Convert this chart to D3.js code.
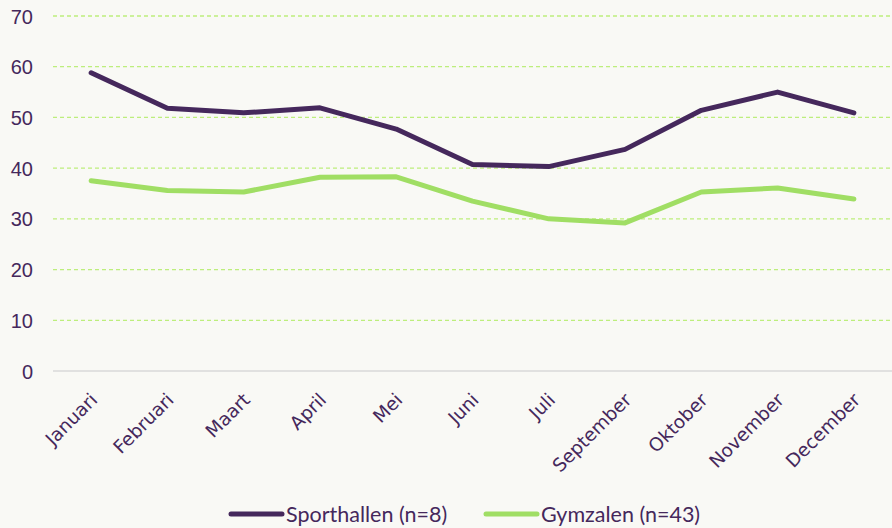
<!DOCTYPE html>
<meta charset="utf-8">
<style>
body { margin: 0; background: #f9f9f5; }
svg { display: block; font-family: Lato, sans-serif; }
.tick text { fill: #45285c; }
</style>
<body>
<svg id="chart" width="892" height="528"></svg>
<script src="https://d3js.org/d3.v7.min.js"></script>
<script>
var months = ["Januari", "Februari", "Maart", "April", "Mei", "Juni", "Juli", "September", "Oktober", "November", "December"]
var sporthallen = [58.8, 51.8, 50.9, 51.9, 47.7, 40.7, 40.3, 43.7, 51.4, 55.0, 50.9]
var gymzalen = [37.5, 35.6, 35.3, 38.2, 38.3, 33.5, 30.0, 29.2, 35.3, 36.1, 33.9]
var seriesNames = ["Sporthallen (n=8)", "Gymzalen (n=43)"]
var yTicks = [0, 10, 20, 30, 40, 50, 60, 70]

var purple = "#45285c", green = "#a0de64"
var margin = {top: 16, right: 0, bottom: 157, left: 53}
var width = 892 - margin.left - margin.right
var height = 528 - margin.top - margin.bottom

var svg = d3.select("#chart")
var g = svg.append("g").attr("transform", "translate(" + margin.left + "," + margin.top + ")")

var x = d3.scalePoint().domain(months).range([0, width]).padding(0.5)
var y = d3.scaleLinear().domain([0, 70]).range([height, 0])

// grid
g.selectAll(".grid").data(yTicks.filter(d => d > 0)).enter().append("line")
  .attr("x1", 0).attr("x2", width)
  .attr("y1", d => y(d)).attr("y2", d => y(d))
  .attr("stroke", "#bdee7c").attr("stroke-width", 1.3)
  .attr("stroke-dasharray", "4,3")
g.append("line").attr("x1", 0).attr("x2", width)
  .attr("y1", y(0)).attr("y2", y(0))
  .attr("stroke", "#d9d9d9").attr("stroke-width", 1.5)

var yAxis = g.append("g").call(d3.axisLeft(y).tickValues(yTicks).tickSize(0).tickPadding(20))
yAxis.select(".domain").remove()
yAxis.selectAll("text").style("font-size", "20px").attr("dy", "0.35em")

var xAxis = g.append("g").attr("transform", "translate(0," + height + ")")
  .call(d3.axisBottom(x).tickSize(0))
xAxis.select(".domain").remove()
xAxis.selectAll("text")
  .style("font-size", "18.5px")
  .style("font-family", "'DejaVu Sans', sans-serif")
  .style("text-anchor", "end")
  .attr("dy", null).attr("y", 0)
  .attr("transform", "translate(7,30) rotate(-45)")

var line = d3.line().x((d, i) => x(months[i])).y(d => y(d))
var series = [sporthallen, gymzalen]
var colors = [purple, green]
g.selectAll(".series").data(series).enter().append("path")
  .attr("d", line)
  .attr("fill", "none")
  .attr("stroke", (d, i) => colors[i])
  .attr("stroke-width", 5)
  .attr("stroke-linecap", "round")
  .attr("stroke-linejoin", "round")

// legend
var legendX = [228, 483]
var lg = svg.selectAll(".legend").data(seriesNames).enter().append("g")
  .attr("transform", (d, i) => "translate(" + legendX[i] + ",514)")
lg.append("line").attr("x1", 3).attr("x2", 54)
  .attr("stroke", (d, i) => colors[i]).attr("stroke-width", 5).attr("stroke-linecap", "round")
lg.append("text").attr("x", 58).attr("dy", "0.35em")
  .style("font-size", "21.5px").attr("fill", purple)
  .text(d => d)
</script>
</body>
